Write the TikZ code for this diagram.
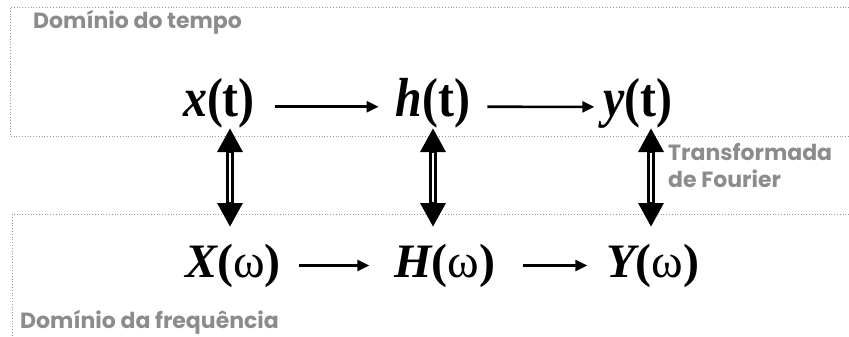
\documentclass[tikz,border=0pt]{standalone}
\usepackage{fontspec}
\setmainfont{Liberation Serif}
\newfontfamily\gothic{Poppins}
\usetikzlibrary{arrows.meta, calc}
\definecolor{domgray}{HTML}{8C8C8C}
\definecolor{boxgray}{HTML}{9A9A9A}

\tikzset{
  sig/.style={inner sep=0pt, anchor=base, font=\fontsize{55}{60}\selectfont\bfseries},
  sigw/.style={inner sep=0pt, anchor=base, font=\fontsize{48}{52}\selectfont\bfseries},
  domlabel/.style={inner sep=0pt, text=domgray, font=\gothic\bfseries\fontsize{22}{27}\selectfont},
  region/.style={boxgray, line width=0.8pt, dotted},
  flow/.style={line width=2.6pt, -{Triangle[length=12pt,width=11pt]}},
  fourier/.style={line width=7.5pt, {Triangle[length=24pt,width=24pt]}-{Triangle[length=24pt,width=24pt]}},
  fouriergap/.style={white, line width=1.2pt, shorten <=25pt, shorten >=25pt}
}

\begin{document}
\begin{tikzpicture}[x=1pt, y=-1pt]
  \useasboundingbox (0,0) rectangle (849,337);
  % domain regions
  \draw[region] (849,7) -- (10,7) -- (10,136) -- (849,136);
  \draw[region] (849,214) -- (12,214) -- (12,337);
  \node[domlabel, anchor=base west] (tempo) at (33,29) {Domínio do tempo};
  \node[domlabel, anchor=base west] (freq) at (20,328) {Domínio da frequência};
  \node[domlabel, anchor=north west, align=left] (tf) at (668,143) {Transformada\\de Fourier};
  % time signals
  \node[sig] (xt) at (219,117) {\scalebox{0.87}[1]{\itshape x\upshape(t)}};
  \node[sig] (ht) at (433,117) {\scalebox{0.87}[1]{\itshape h\upshape(t)}};
  \node[sig] (yt) at (638,117) {\scalebox{0.87}[1]{\itshape y\upshape(t)}};
  % frequency signals
  \node[sigw] (Xw) at (233,277) {\itshape X\upshape(\textmd{ω})};
  \node[sigw] (Hw) at (445,277) {\itshape H\upshape(\textmd{ω})};
  \node[sigw] (Yw) at (653,277) {\itshape Y\upshape(\textmd{ω})};
  % system arrows
  \draw[flow] ([xshift=20pt,yshift=-3pt]xt.east) -- ([xshift=-17pt,yshift=-3pt]ht.west);
  \draw[flow] ([xshift=17pt,yshift=-3pt]ht.east) -- ([xshift=-9pt,yshift=-3pt]yt.west);
  \draw[flow] ([xshift=18pt]Xw.east) -- ([xshift=-25pt]Hw.west);
  \draw[flow] ([xshift=27pt]Hw.east) -- ([xshift=-19pt]Yw.west);
  % fourier pairs
  \foreach \i/\px in {1/230,2/433,3/651} {
    \coordinate (ft\i) at (\px,128);
    \coordinate (fb\i) at (\px,227);
    \draw[fourier] (ft\i) -- (fb\i);
    \draw[fouriergap] (ft\i) -- (fb\i);
  }
\end{tikzpicture}
\end{document}
